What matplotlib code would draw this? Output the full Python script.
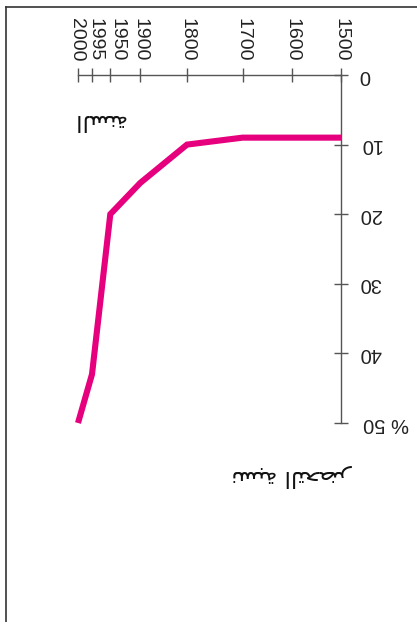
import numpy as np
import matplotlib
matplotlib.use("Agg")
import matplotlib.pyplot as plt
import matplotlib.transforms as mtransforms
from matplotlib.lines import Line2D

# Data (chart is drawn rotated by 180 degrees, as in the reference)
years = [1500, 1600, 1700, 1800, 1900, 1950, 1995, 2000]
urban_pct = [9, 9, 9, 10, 15.5, 20, 43, 50]
year_ticks = [1500, 1600, 1700, 1800, 1900, 1950, 1995, 2000]
pct_ticks = [0, 10, 20, 30, 40, 50]
pct_labels = ["0", "10", "20", "30", "40", "% 50"]
# Arabic labels (presentation forms, visual order) : "السنة" and "نسبة التحضر"
xlabel_txt = "\ufe94\ufee8\ufeb4\ufedf\ufe8d"
ylabel_txt = "\ufeae\ufec0\ufea4\ufe98\ufedf\ufe8d \ufe94\ufe92\ufeb4\ufee7"

# Uneven spacing of the original year axis (scale knots)
_knots_y = np.array([1500, 1600, 1700, 1800, 1900, 1950, 1995, 2000], float)
_knots_p = np.array([0, 49, 98.4, 154, 200.7, 230.7, 249, 263], float)

def fwd(v):
    return np.interp(v, _knots_y, _knots_p)

def inv(v):
    return np.interp(v, _knots_p, _knots_y)

W, H = 417, 622
fig = plt.figure(figsize=(W / 100, H / 100), dpi=100)
plt.rcParams['font.family'] = ['Liberation Sans', 'DejaVu Sans']

ax = fig.add_axes([78 / W, (H - 423) / H, 263 / W, 348 / H])
ax.set_xscale('function', functions=(fwd, inv))
ax.set_xlim(2000, 1500)
ax.set_ylim(50, 0)

ax.plot(years, urban_pct, color='#E6007E', lw=4.4, solid_capstyle='butt',
        solid_joinstyle='miter', clip_on=False, zorder=3)

for s in ['left', 'bottom']:
    ax.spines[s].set_visible(False)
for s in ['top', 'right']:
    ax.spines[s].set_color('#555555')
    ax.spines[s].set_linewidth(1.0)

ax.xaxis.tick_top()
ax.yaxis.tick_right()
ax.set_xticks(year_ticks)
ax.set_xticklabels([str(y) for y in year_ticks], rotation=270,
                   fontsize=14, color='#222222')
ax.xaxis.set_minor_locator(matplotlib.ticker.NullLocator())
ax.set_yticks(pct_ticks)
ax.set_yticklabels(pct_labels, rotation=180, fontsize=14.5, color='#222222',
                   va='center')
ax.tick_params(axis='x', direction='inout', length=10, width=1.0,
               color='#555555', pad=5)
ax.tick_params(axis='y', direction='inout', length=10, width=1.0,
               color='#555555', pad=8)
ax.patch.set_visible(False)

# small horizontal nudges of crowded year labels (pixels)
nudge = {1995: 3, 1950: 6.5, 2000: -1.5}
for t, lab in zip(year_ticks, ax.get_xticklabels()):
    if t in nudge:
        off = mtransforms.ScaledTranslation(nudge[t] / 100, 0, fig.dpi_scale_trans)
        lab.set_transform(lab.get_transform() + off)
ylabs = ax.get_yticklabels()
off = mtransforms.ScaledTranslation(4 / 100, 0, fig.dpi_scale_trans)
ylabs[-1].set_transform(ylabs[-1].get_transform() + off)

fig.text(99 / W, 1 - 120 / H, xlabel_txt, family=['DejaVu Sans'],
         fontsize=16.5, rotation=180, ha='center', va='center', color='#111111')
fig.text(293 / W, 1 - 475 / H, ylabel_txt, family=['DejaVu Sans'],
         fontsize=16.5, rotation=180, ha='center', va='center', color='#111111')

# frame (only two sides visible in the picture)
fig.add_artist(Line2D([6 / W, 6 / W], [-0.1, 1 - 7 / H], transform=fig.transFigure,
                      color='#333333', lw=1.2))
fig.add_artist(Line2D([6 / W, 1.1], [1 - 7 / H, 1 - 7 / H], transform=fig.transFigure,
                      color='#333333', lw=1.2))

fig.savefig('out.png', dpi=100)
